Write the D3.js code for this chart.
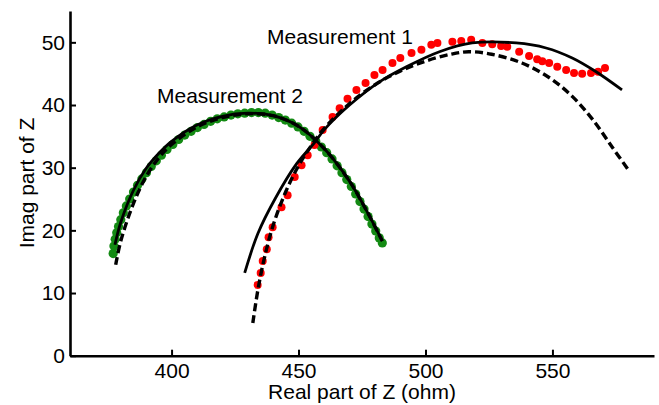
<!DOCTYPE html>
<html>
<head>
<meta charset="utf-8">
<title>Impedance measurements</title>
<style>
  body { margin: 0; background: #fff; }
  svg { display: block; font-family: 'Liberation Sans', Arial, sans-serif; }
  .axis .domain { stroke: #000; stroke-width: 2.6px; }
  .axis .tick line { stroke: #000; stroke-width: 2px; }
  .axis .tick text { font-size: 21px; fill: #000; }
  .label { font-size: 21px; fill: #000; }
</style>
</head>
<body>
<svg width="659" height="405"></svg>
<script src="https://d3js.org/d3.v7.min.js"></script>
<script>
let m1Data = [
  [433.9, 11.3], [435.1, 13.2], [435.9, 15.1], [437.5, 17.0], [438.2, 18.9],
  [439.8, 20.5], [443.3, 23.7], [445.7, 25.6], [448.5, 28.5], [451.2, 30.4],
  [453.6, 32.0], [456.3, 33.6], [459.5, 36.0], [463.4, 38.1], [466.2, 39.5],
  [469.3, 41.0], [472.8, 42.4], [476.4, 43.5], [479.9, 44.8], [483.1, 45.6],
  [487.0, 46.7], [490.1, 47.5], [494.5, 48.3], [498.4, 48.8], [502.3, 49.6],
  [504.7, 49.9], [510.6, 50.1], [514.1, 50.2], [518.0, 50.4], [522.4, 49.9],
  [526.3, 49.7], [529.8, 49.4], [532.2, 49.3], [536.9, 48.5], [540.8, 47.8],
  [544.0, 47.3], [546.0, 47.0], [548.7, 46.7], [551.9, 46.1], [555.4, 45.6],
  [558.5, 45.1], [561.7, 45.0], [565.2, 45.1], [568.0, 45.3], [570.7, 45.9]
]
// Measurement 2 (green dots)
let m2Data = [
  [377.0, 16.3], [377.3, 17.5], [377.8, 18.6], [378.4, 19.6], [379.1, 20.6],
  [380.0, 21.7], [381.0, 22.8], [382.2, 23.9], [383.5, 25.0], [385.0, 26.1],
  [386.6, 27.2], [388.3, 28.2], [390.1, 29.2], [392.0, 30.2], [394.0, 31.1],
  [396.0, 32.0], [398.2, 32.9], [400.5, 33.7], [402.8, 34.5], [405.2, 35.2],
  [407.7, 35.8], [410.2, 36.4], [412.8, 36.9], [415.4, 37.4], [418.0, 37.8],
  [420.7, 38.1], [423.4, 38.4], [426.1, 38.6], [428.8, 38.7], [431.5, 38.8],
  [434.2, 38.8], [436.9, 38.7], [439.6, 38.4], [442.2, 38.0], [444.8, 37.6],
  [447.3, 37.1], [449.8, 36.5], [452.2, 35.8], [454.5, 35.0], [456.8, 34.2],
  [459.0, 33.3], [461.1, 32.4], [463.2, 31.4], [465.2, 30.3], [467.1, 29.2],
  [469.0, 28.1], [470.8, 27.0], [472.5, 25.8], [474.2, 24.6], [475.8, 23.4],
  [477.4, 22.2], [478.9, 21.0], [480.4, 19.9], [481.8, 18.8], [483.0, 18.0]
]
// fitted curves
let m1Solid = [
  [428.8, 13.2], [434.0, 19.5], [441.0, 25.2], [449.2, 30.6], [456.3, 34.0],
  [460.0, 36.0], [470.1, 40.0], [481.9, 43.7], [492.5, 46.1], [505.5, 48.5],
  [518.4, 49.9], [535.7, 49.9], [547.5, 49.1], [557.8, 47.5], [567.2, 45.3],
  [577.4, 42.4]
]
let m1Dashed = [
  [432.0, 5.2], [434.0, 10.5], [436.5, 15.5], [440.0, 20.8], [445.0, 26.2],
  [450.0, 30.3], [455.0, 33.5], [460.0, 36.2], [470.0, 40.2], [480.0, 43.2],
  [490.0, 45.4], [500.0, 47.0], [510.0, 48.1], [517.0, 48.5], [526.0, 48.1],
  [538.0, 46.7], [549.0, 44.3], [558.0, 41.3], [566.0, 37.6], [573.5, 33.3],
  [580.0, 29.6]
]
let m2Solid = [
  [377.7, 17.7], [380, 21.3], [385, 26.4], [390, 29.9], [395, 32.3],
  [400, 34.2], [410, 36.8], [420, 38.2], [430, 38.7], [440, 38.3],
  [450, 36.6], [460, 33.1], [470, 27.9], [477, 23.0], [483, 18.3]
]
let m2Dashed = [
  [378, 14.5], [380, 18.3], [385, 24.3], [390, 28.6], [395, 31.6],
  [400, 33.7], [410, 36.5], [420, 38.0], [430, 38.6], [440, 38.3],
  [450, 36.6], [460, 33.1], [470, 27.9], [477, 23.0], [483, 18.3]
]
let xTicks = [400, 450, 500, 550]
let yTicks = [0, 10, 20, 30, 40, 50]

let svg = d3.select("svg")

let x = d3.scaleLinear().domain([360, 590]).range([70, 654])
let y = d3.scaleLinear().domain([0, 55]).range([355.7, 11])

let line = d3.line()
    .x(d => x(d[0]))
    .y(d => y(d[1]))
    .curve(d3.curveCatmullRom)

// dots
svg.append("g")
    .selectAll("circle")
    .data(m2Data)
    .join("circle")
    .attr("cx", d => x(d[0]))
    .attr("cy", d => y(d[1]))
    .attr("r", 4.6)
    .attr("fill", "#138a13")

svg.append("g")
    .selectAll("circle")
    .data(m1Data)
    .join("circle")
    .attr("cx", d => x(d[0]))
    .attr("cy", d => y(d[1]))
    .attr("r", 4)
    .attr("fill", "#ff0000")

// fits
let fits = [
  { pts: m2Dashed, dash: "8,4" },
  { pts: m2Solid, dash: null },
  { pts: m1Dashed, dash: "8,4" },
  { pts: m1Solid, dash: null }
]
svg.append("g")
    .selectAll("path")
    .data(fits)
    .join("path")
    .attr("d", d => line(d.pts))
    .attr("fill", "none")
    .attr("stroke", "#000")
    .attr("stroke-width", d => d.dash ? 3.4 : 2.8)
    .attr("stroke-dasharray", d => d.dash)

// axes
svg.append("g")
    .attr("class", "axis")
    .attr("transform", "translate(0,355.7)")
    .call(d3.axisBottom(x).tickValues(xTicks).tickSizeInner(-6).tickSizeOuter(0).tickPadding(7))

svg.append("g")
    .attr("class", "axis")
    .attr("transform", "translate(70,0)")
    .call(d3.axisLeft(y).tickValues(yTicks).tickSizeInner(-6).tickSizeOuter(0).tickPadding(5))

// labels
svg.append("text").attr("class", "label")
    .attr("x", 362).attr("y", 399)
    .attr("text-anchor", "middle")
    .text("Real part of Z (ohm)")

svg.append("text").attr("class", "label")
    .attr("transform", "translate(34,183) rotate(-90)")
    .attr("text-anchor", "middle")
    .text("Imag part of Z")

svg.append("text").attr("class", "label")
    .attr("x", 267).attr("y", 44)
    .text("Measurement 1")

svg.append("text").attr("class", "label")
    .attr("x", 157).attr("y", 103)
    .text("Measurement 2")
</script>
</body>
</html>
